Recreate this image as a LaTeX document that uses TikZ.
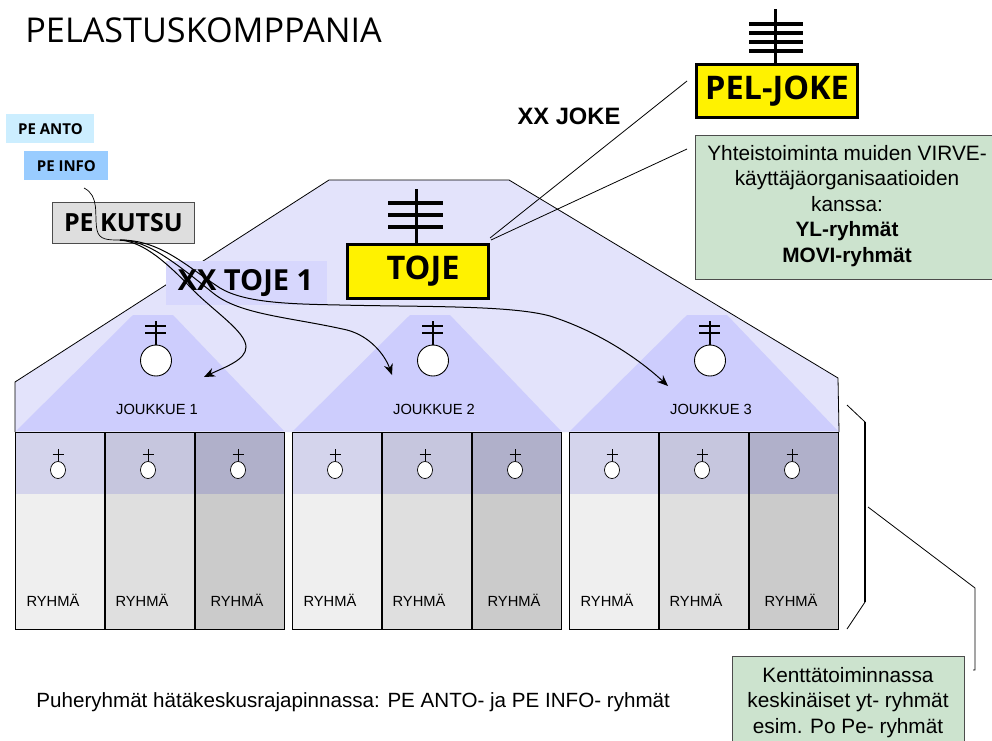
\documentclass[tikz,border=0pt]{standalone}
\usepackage{fontspec}
\usepackage{color}
\setmainfont{Liberation Sans}
\newfontfamily\titlefont{Open Sans}
\definecolor{housefill}{HTML}{E3E3FB}
\definecolor{platoonfill}{HTML}{CDCDFD}
\definecolor{labelfill}{HTML}{D7D7FD}
\definecolor{greenfill}{HTML}{CCE3CE}
\definecolor{antofill}{HTML}{CCEEFF}
\definecolor{infofill}{HTML}{99CCFF}
\usetikzlibrary{arrows.meta,shapes.geometric}

\begin{document}
\begin{tikzpicture}[x=1pt,y=-1pt,thick,
		box node/.style={rectangle,draw,anchor=north west,inner sep=0pt,align=center},
		tag node/.style={rectangle,anchor=north west,inner sep=0pt,font=\titlefont\bfseries\fontsize{15}{18}\selectfont},
		yellow node/.style={box node,fill=yellow,line width=3pt,font=\titlefont\bfseries\fontsize{32.5}{38}\selectfont},
		green node/.style={box node,fill=greenfill,draw=black!70,line width=0.8pt},
		green text/.style={font=\fontsize{20.8}{25.4}\selectfont,align=center,anchor=north,inner sep=0pt},
		thin line/.style={line width=0.8pt},
		call line/.style={line width=1pt,-{Stealth[length=11pt,width=9pt]}},
		small text/.style={font=\fontsize{14.7}{17}\selectfont}]
		
		\useasboundingbox (0,0) rectangle (992,740);
		
		\node[anchor=west,font=\titlefont\fontsize{34.2}{40}\selectfont,inner sep=0pt] (title) at (25,30) {PELASTUSKOMPPANIA};
		
		% komppanian pohja
		\draw[fill=housefill,thin line] (15,432) -- (15,382) -- (329,180) -- (509,180) -- (838,378) -- (839,432);
		
		% joukkueet
		\foreach \px/\n in {15/1,292/2,569/3} {
			\fill[platoonfill] (\px+118,315) -- (\px+158,315) -- (\px+269,431) -- (\px+1,431) -- cycle;
			\node[small text] (joukkue\n) at (\px+142,409) {JOUKKUE \n};
			\draw[line width=1.3pt] (\px+141,321) -- (\px+141,346);
			\draw[line width=2.4pt] (\px+130,326) -- (\px+151,326) (\px+130,333) -- (\px+151,333);
			\node[circle,draw,fill=white,line width=0.9pt,minimum size=31pt,inner sep=0pt] (johtaja\n) at (\px+141,360.5) {};
			
			% ryhmat
			\foreach \i/\gr/\bnd/\lab in {0/EFEFEF/D4D4EC/38,1/DFDFDF/C6C6DE/127,2/CBCBCB/B0B0CA/222} {
				\definecolor{grcol}{HTML}{\gr}
				\definecolor{bndcol}{HTML}{\bnd}
				\fill[grcol] (\px+\i*90,494) rectangle (\px+\i*90+89.5,629);
				\fill[bndcol] (\px+\i*90,432) rectangle (\px+\i*90+89.5,494);
				\draw[line width=0.8pt] (\px+\i*90,432) rectangle (\px+\i*90+89.5,629);
				\draw[line width=0.7pt] (\px+\i*90+43,449) -- (\px+\i*90+43,462) (\px+\i*90+37.5,454) -- (\px+\i*90+48.5,454);
				\node[ellipse,draw,fill=white,line width=0.7pt,minimum width=15pt,minimum height=17pt,inner sep=0pt] at (\px+\i*90+43,470) {};
				\node[small text] at (\px+\lab,600) {RYHMÄ};
			}
		}
		
		% toje
		\node[yellow node,minimum width=141pt,minimum height=54pt] (toje) at (346,243) {\hspace*{10pt}TOJE};
		\draw[line width=3pt] (416,189) -- (416,243);
		\foreach \yy in {203,215,227} \draw[line width=4pt] (388,\yy) -- (443,\yy);
		
		% pel-joke
		\node[yellow node,minimum width=161pt,minimum height=53pt] (joke) at (695,63) {PEL-JOKE};
		\draw[line width=3pt] (775,9) -- (775,63);
		\foreach \yy in {24,33,42,51} \draw[line width=4pt] (749,\yy) -- (803,\yy);
		
		\node[font=\bfseries\fontsize{23.7}{28}\selectfont] (xxjoke) at (569,116) {XX JOKE};
		
		\node[green node,minimum width=300pt,minimum height=144pt] (yhteis) at (695,135) {};
		\node[green text] (yhteistxt) at (847,145) {Yhteistoiminta muiden VIRVE-\\käyttäjäorganisaatioiden\\kanssa:\\\textbf{YL-ryhmät}\\\textbf{MOVI-ryhmät}};
		
		\coordinate (jokeend) at (687,81);
		\coordinate (yhteisend) at (687,149);
		\coordinate (tojeA) at (490,238);
		\coordinate (tojeB) at (491,240);
		\draw[thin line] (tojeA) -- (jokeend);
		\draw[thin line] (tojeB) -- (yhteisend);
		
		% kutsu
		\node[tag node,fill=antofill,minimum width=88pt,minimum height=29pt] (anto) at (6,114) {PE ANTO};
		\node[tag node,fill=infofill,minimum width=84pt,minimum height=29pt] (info) at (24,151) {PE INFO};
		\node[box node,fill=black!13,draw=black!70,line width=0.9pt,minimum width=142pt,minimum height=41pt,font=\titlefont\bfseries\fontsize{25}{30}\selectfont] (kutsu) at (52,202) {PE KUTSU};
		\node[rectangle,fill=labelfill,minimum width=161pt,minimum height=44pt,inner sep=0pt,anchor=north west] (tojeback) at (166,261) {};
		\node[font=\titlefont\bfseries\fontsize{29}{34}\selectfont] (xxtoje) at (245.5,283) {XX TOJE 1};
		
		\coordinate (infostart) at (84,188);
		\coordinate (kutsuout) at (120,240);
		\coordinate (end1) at (204,377);
		\coordinate (end2) at (392,375);
		\coordinate (end3) at (668,386);
		\draw[line width=0.7pt] (infostart) .. controls (100,196) and (94,215) .. (97,230) .. controls (99,240) and (108,240) .. (kutsuout);
		\draw[call line] (kutsuout) .. controls (140,242) and (160,255) .. (193,290) .. controls (215,312) and (246,332) .. (246,347) .. controls (246,360) and (225,367) .. (end1);
		\draw[call line] (kutsuout) .. controls (145,240) and (170,258) .. (213,293) .. controls (240,315) and (290,317) .. (347,330) .. controls (370,336) and (385,355) .. (end2);
		\draw[call line] (kutsuout) .. controls (160,240) and (185,265) .. (220,288) .. controls (245,303) and (290,304) .. (340,305) .. controls (420,307) and (510,305) .. (550,316) .. controls (600,332) and (640,360) .. (end3);
		
		% haarukka
		\draw[thin line] (847,405) -- (865,422);
		\draw[line width=2pt] (865,422) -- (865,602);
		\draw[thin line] (865,602) -- (847,629);
		\coordinate (bracketmid) at (868,507);
		\coordinate (kenttaend) at (973,670);
		\draw[thin line] (bracketmid) -- (975,588) -- (975,670) -- (kenttaend);
		
		\node[green node,minimum width=232pt,minimum height=90pt] (kentta) at (732,656) {};
		\node[green text] (kenttatxt) at (848,667) {Kenttätoiminnassa\\keskinäiset yt- ryhmät\\esim. Po Pe- ryhmät};
		
		\node[font=\fontsize{20.6}{24}\selectfont,anchor=west,inner sep=0pt] (puhe) at (36,702) {Puheryhmät hätäkeskusrajapinnassa: PE ANTO- ja PE INFO- ryhmät};
		\end{tikzpicture}
\end{document}
